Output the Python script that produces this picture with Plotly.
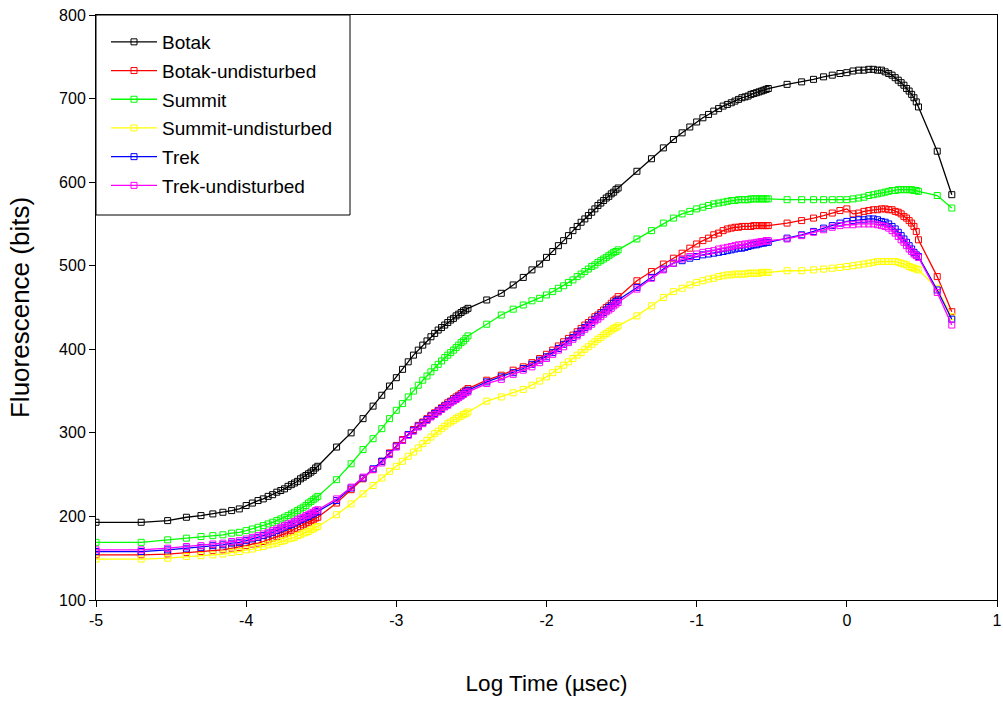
import numpy as np
import plotly.graph_objects as go

# Sample times (ms)
time_ms = [0.01, 0.02, 0.03, 0.04, 0.05, 0.06, 0.07, 0.08, 0.09, 0.10,
           0.11, 0.12, 0.13, 0.14, 0.15, 0.16, 0.17, 0.18, 0.19, 0.20,
           0.21, 0.22, 0.23, 0.24, 0.25, 0.26, 0.27, 0.28, 0.29, 0.30,
           0.4, 0.5, 0.6, 0.7, 0.8, 0.9, 1.0, 1.1, 1.2, 1.3, 1.4, 1.5, 1.6, 1.7,
           1.8, 1.9, 2.0, 2.1, 2.2, 2.3, 2.4, 2.5, 2.6, 2.7, 2.8, 2.9, 3.0,
           4, 5, 6, 7, 8, 9, 10, 11, 12, 13, 14, 15, 16, 17, 18, 19, 20,
           21, 22, 23, 24, 25, 26, 27, 28, 29, 30,
           40, 50, 60, 70, 80, 90, 100, 110, 120, 130, 140, 150, 160, 170,
           180, 190, 200, 210, 220, 230, 240, 250, 260, 270, 280, 290, 300,
           400, 500, 600, 700, 800, 900, 1000, 1100, 1200, 1300, 1400, 1500,
           1600, 1700, 1800, 1900, 2000, 2100, 2200, 2300, 2400, 2500, 2600,
           2700, 2800, 2900, 3000, 4000, 5000]

botak = [193, 193, 195, 199, 201, 203, 205, 207, 209, 213, 216, 219, 221, 224, 226,
         229, 231, 233, 236, 238, 240, 242, 245, 247, 249, 251, 253, 255, 258, 260,
         283, 300, 317, 332, 345, 356, 366, 376, 385, 393, 399, 405, 410, 415, 419,
         423, 426, 429, 432, 435, 437, 440, 442, 444, 446, 447, 449,
         459, 467, 477, 486, 495, 502, 510, 517, 524, 530, 536, 542, 547, 552, 556,
         560, 564, 568, 572, 575, 578, 581, 583, 586, 588, 591, 593,
         613, 628, 641, 651, 659, 666, 672, 677, 681, 685, 688, 691, 693, 695, 697,
         699, 701, 702, 703, 705, 706, 707, 708, 709, 710, 711, 712,
         717, 720, 723, 726, 728, 730, 731, 733, 734, 734, 735, 735, 734, 734, 732,
         730, 728, 725, 722, 719, 716, 712, 709, 705, 701, 696, 690,
         637, 585]

botak_und = [154, 154, 155, 157, 158, 159, 160, 162, 163, 165, 167, 168, 170, 172, 174,
             176, 177, 179, 181, 183, 185, 186, 188, 190, 192, 193, 195, 196, 198, 199,
             216, 232, 245, 256, 266, 276, 285, 292, 298, 304, 309, 313, 317, 321, 324,
             327, 330, 333, 336, 338, 341, 343, 345, 347, 349, 351, 353,
             363, 369, 375, 379, 384, 389, 394, 399, 404, 409, 413, 417, 421, 425, 429,
             432, 435, 439, 441, 444, 447, 450, 452, 455, 458, 460, 463,
             482, 493, 502, 509, 515, 521, 526, 530, 533, 537, 539, 542, 544, 545, 546,
             546, 547, 547, 547, 547, 548, 548, 548, 548, 548, 548, 548,
             551, 554, 557, 560, 563, 566, 568, 562, 563, 565, 566, 567, 567, 568, 568,
             567, 567, 565, 564, 562, 559, 557, 554, 551, 547, 541, 531,
             487, 445]

summit = [169, 169, 172, 174, 176, 177, 178, 180, 181, 183, 185, 187, 189, 191, 193,
          195, 197, 199, 201, 203, 205, 207, 209, 211, 213, 216, 218, 220, 222, 224,
          244, 263, 280, 293, 305, 317, 327, 335, 343, 350, 357, 363, 368, 373, 378,
          382, 386, 390, 393, 396, 399, 402, 405, 408, 410, 413, 416,
          430, 441, 448, 453, 458, 461, 465, 469, 473, 476, 480, 483, 487, 490, 493,
          496, 499, 501, 504, 506, 508, 510, 512, 514, 516, 517, 519,
          532, 542, 551, 557, 562, 565, 568, 570, 572, 574, 575, 576, 577, 578, 578,
          579, 579, 579, 579, 580, 580, 580, 580, 580, 580, 580, 580,
          579, 579, 579, 579, 579, 579, 579, 580, 581, 582, 584, 585, 586, 587, 588,
          589, 590, 590, 591, 591, 591, 591, 591, 591, 590, 590, 589,
          584, 569]

summit_und = [149, 149, 150, 152, 153, 154, 155, 157, 158, 160, 161, 163, 164, 166, 167,
              168, 170, 171, 173, 174, 175, 177, 178, 180, 181, 182, 184, 185, 187, 188,
              202, 215, 227, 237, 246, 254, 260, 266, 272, 277, 282, 287, 291, 295, 299,
              302, 305, 308, 311, 313, 315, 317, 319, 320, 322, 323, 325,
              338, 343, 348, 352, 357, 362, 367, 372, 376, 381, 385, 389, 393, 396, 400,
              403, 406, 409, 412, 414, 417, 419, 421, 423, 425, 426, 428,
              440, 452, 462, 469, 473, 477, 480, 482, 484, 485, 487, 488, 489, 489, 490,
              490, 490, 490, 491, 491, 491, 491, 491, 492, 492, 492, 492,
              494, 494, 495, 496, 497, 498, 499, 500, 501, 502, 503, 504, 505, 505, 505,
              505, 505, 505, 504, 503, 502, 501, 499, 498, 497, 496, 495,
              473, 439]

trek = [158, 158, 160, 162, 163, 165, 166, 168, 169, 171, 173, 175, 177, 179, 181,
        183, 185, 187, 189, 190, 192, 194, 196, 197, 199, 200, 202, 203, 205, 206,
        219, 234, 246, 257, 266, 275, 284, 291, 298, 303, 308, 312, 316, 320, 323,
        326, 329, 332, 334, 337, 339, 341, 343, 345, 347, 349, 351,
        361, 367, 372, 377, 382, 387, 391, 396, 401, 406, 410, 414, 418, 422, 426,
        429, 432, 436, 439, 442, 444, 447, 450, 452, 455, 457, 459,
        474, 486, 496, 503, 506, 509, 511, 513, 514, 515, 516, 517, 518, 519, 520,
        521, 521, 522, 523, 524, 525, 525, 526, 527, 527, 528, 528,
        533, 537, 541, 545, 548, 551, 553, 554, 555, 555, 556, 556, 555, 553, 552,
        550, 547, 544, 540, 536, 532, 528, 524, 520, 516, 513, 511,
        471, 436]

trek_und = [160, 160, 162, 164, 165, 167, 168, 170, 171, 173, 175, 177, 179, 181, 183,
            185, 187, 189, 191, 192, 194, 196, 198, 199, 201, 202, 204, 205, 207, 208,
            221, 235, 247, 256, 264, 274, 283, 291, 297, 302, 307, 311, 315, 319, 322,
            325, 328, 331, 333, 336, 338, 340, 342, 344, 346, 348, 349,
            359, 364, 370, 375, 379, 384, 389, 394, 399, 403, 408, 412, 416, 420, 424,
            427, 430, 434, 436, 439, 442, 445, 447, 449, 452, 454, 456,
            472, 485, 495, 503, 508, 511, 514, 516, 517, 518, 520, 521, 522, 523, 524,
            525, 525, 526, 526, 527, 527, 528, 528, 529, 529, 530, 530,
            532, 536, 540, 543, 546, 548, 549, 549, 550, 550, 550, 550, 549, 548, 547,
            545, 542, 539, 535, 531, 528, 524, 520, 517, 514, 512, 510,
            468, 429]

series_names = ["Botak", "Botak-undisturbed", "Summit", "Summit-undisturbed",
                "Trek", "Trek-undisturbed"]
series_values = [botak, botak_und, summit, summit_und, trek, trek_und]
series_colors = ["#000000", "#FF0000", "#00FF00", "#FFFF00", "#0000FF", "#FF00FF"]

x_tick_vals = [-5, -4, -3, -2, -1, 0, 1]
x_tick_text = ["-5", "-4", "-3", "-2", "-1", "0", "1"]
y_tick_vals = [100, 200, 300, 400, 500, 600, 700, 800]

log_time = np.log10(np.array(time_ms) / 1000.0)

FONT = "Liberation Sans, Arial, sans-serif"

fig = go.Figure()
for name, vals, col in zip(series_names, series_values, series_colors):
    fig.add_trace(go.Scatter(
        x=log_time, y=vals, name=name, mode="lines+markers",
        legendgroup=name,
        line=dict(color=col, width=1.3),
        marker=dict(symbol="square-open", size=6, color=col, line=dict(width=1, color=col)),
    ))

# legend frame
fig.add_shape(type="rect", xref="paper", yref="paper",
              x0=0, x1=254 / 901, y0=1 - 200 / 585, y1=1,
              line=dict(color="black", width=1), fillcolor="rgba(0,0,0,0)", layer="above")

fig.update_layout(
    width=1003, height=702,
    margin=dict(l=96, r=6, t=15, b=102, autoexpand=False),
    paper_bgcolor="white", plot_bgcolor="white",
    font=dict(family=FONT, color="black", size=16),
    showlegend=True,
    legend=dict(x=10 / 901, y=1 - 8 / 585, xanchor="left", yanchor="top",
                bgcolor="rgba(0,0,0,0)", borderwidth=0,
                font=dict(family=FONT, size=19, color="black"),
                tracegroupgap=1, itemwidth=46),
)
fig.update_xaxes(range=[-5, 1], tickvals=x_tick_vals, ticktext=x_tick_text,
                 showline=True, mirror=True, linecolor="black", linewidth=1,
                 ticks="outside", ticklen=6, tickcolor="black", showgrid=False,
                 zeroline=False, tickfont=dict(size=16),
                 title=dict(text="Log Time (µsec)", font=dict(size=22.5), standoff=47))
fig.update_yaxes(range=[100, 800], tickvals=y_tick_vals,
                 showline=True, mirror=True, linecolor="black", linewidth=1,
                 ticks="outside", ticklen=6, tickcolor="black", showgrid=False,
                 zeroline=False, tickfont=dict(size=16),
                 title=dict(text="Fluorescence (bits)", font=dict(size=26), standoff=21))

fig.write_html("out.html")
